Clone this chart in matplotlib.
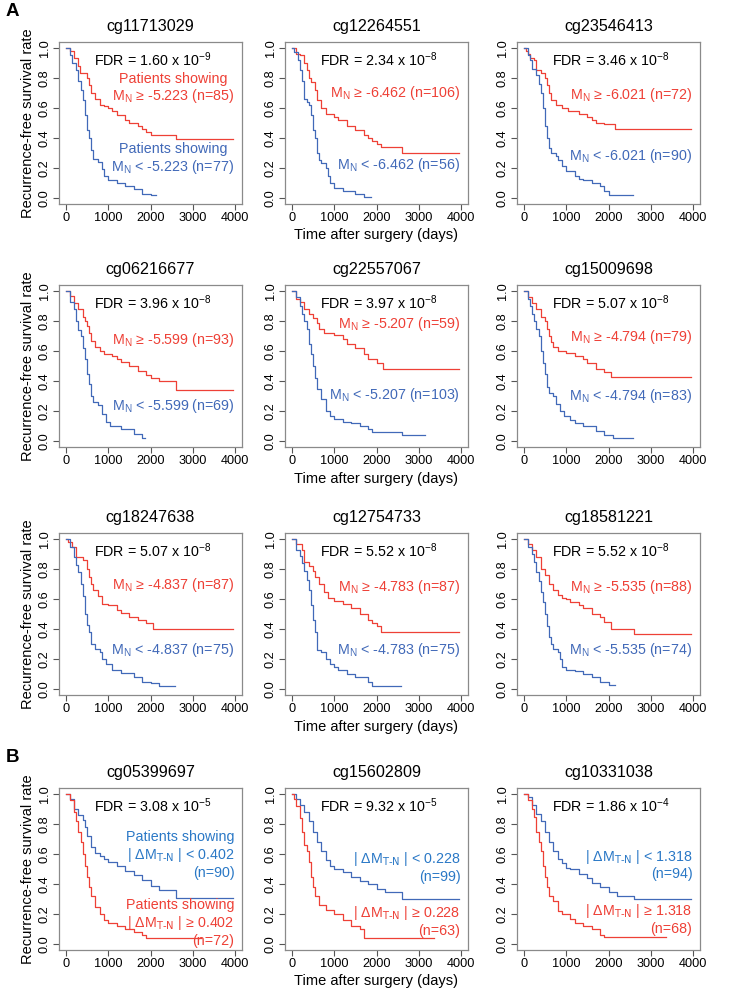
import matplotlib
matplotlib.use("Agg")
import matplotlib.pyplot as plt

plt.rcParams["font.family"] = ["Liberation Sans", "DejaVu Sans"]
plt.rcParams["mathtext.default"] = "regular"

RED = "#EE4036"
BLUE = "#4169B8"
BLUE_B = "#2A78C6"

# ---- panel A: split by normal-tissue methylation M_N ----
titles_a = ["cg11713029", "cg12264551", "cg23546413",
            "cg06216677", "cg22557067", "cg15009698",
            "cg18247638", "cg12754733", "cg18581221"]
fdr_a = [("1.60", "-9"), ("2.34", "-8"), ("3.46", "-8"),
         ("3.96", "-8"), ("3.97", "-8"), ("5.07", "-8"),
         ("5.07", "-8"), ("5.52", "-8"), ("5.52", "-8")]
thresh_a = ["-5.223", "-6.462", "-6.021", "-5.599", "-5.207",
            "-4.794", "-4.837", "-4.783", "-5.535"]
n_hi_a = [85, 106, 72, 93, 59, 79, 87, 87, 88]
n_lo_a = [77, 56, 90, 69, 103, 83, 75, 75, 74]

# ---- panel B: split by |delta M (tumour - normal)| ----
titles_b = ["cg05399697", "cg15602809", "cg10331038"]
fdr_b = [("3.08", "-5"), ("9.32", "-5"), ("1.86", "-4")]
thresh_b = ["0.402", "0.228", "1.318"]
n_lo_b = [90, 99, 94]
n_hi_b = [72, 63, 68]

# Kaplan-Meier step points (days, survival); hi = red, lo = blue
a1_hi_t = [0, 100, 200, 300, 330, 500, 550, 600, 700, 800, 900, 1000, 1100, 1200, 1400, 1500, 1700, 1800, 1900, 2000, 2600, 3950]
a1_hi_s = [1.0, 0.98, 0.93, 0.88, 0.83, 0.80, 0.75, 0.70, 0.66, 0.62, 0.61, 0.60, 0.58, 0.55, 0.52, 0.50, 0.48, 0.46, 0.44, 0.42, 0.39, 0.39]
a1_lo_t = [0, 100, 150, 250, 300, 350, 400, 450, 500, 550, 600, 650, 750, 850, 900, 1000, 1200, 1400, 1600, 1800, 2000, 2130]
a1_lo_s = [1.0, 0.95, 0.90, 0.85, 0.78, 0.72, 0.65, 0.55, 0.45, 0.40, 0.32, 0.26, 0.24, 0.19, 0.15, 0.12, 0.10, 0.08, 0.06, 0.03, 0.02, 0.02]

a2_hi_t = [0, 100, 200, 300, 350, 400, 450, 550, 600, 700, 800, 1000, 1100, 1300, 1500, 1700, 1800, 1900, 2000, 2100, 2600, 3950]
a2_hi_s = [1.0, 0.96, 0.95, 0.90, 0.85, 0.80, 0.77, 0.72, 0.65, 0.60, 0.56, 0.54, 0.52, 0.48, 0.45, 0.42, 0.40, 0.38, 0.36, 0.34, 0.30, 0.30]
a2_lo_t = [0, 50, 150, 200, 250, 280, 350, 400, 450, 500, 550, 600, 650, 700, 800, 850, 900, 1000, 1200, 1500, 1700, 1870]
a2_lo_s = [1.0, 0.97, 0.92, 0.85, 0.78, 0.66, 0.64, 0.62, 0.55, 0.45, 0.40, 0.30, 0.25, 0.23, 0.20, 0.15, 0.10, 0.07, 0.05, 0.03, 0.01, 0.01]

a3_hi_t = [0, 50, 100, 150, 250, 300, 400, 500, 550, 600, 650, 750, 900, 1050, 1300, 1500, 1600, 1700, 1900, 2150, 3950]
a3_hi_s = [1.0, 0.98, 0.96, 0.93, 0.92, 0.85, 0.83, 0.80, 0.75, 0.70, 0.65, 0.62, 0.60, 0.58, 0.56, 0.54, 0.52, 0.50, 0.49, 0.46, 0.46]
a3_lo_t = [0, 100, 150, 200, 300, 350, 400, 450, 500, 550, 600, 650, 750, 800, 900, 1000, 1200, 1300, 1400, 1600, 1800, 1900, 2000, 2580]
a3_lo_s = [1.0, 0.95, 0.92, 0.86, 0.82, 0.76, 0.70, 0.60, 0.48, 0.40, 0.33, 0.30, 0.28, 0.25, 0.21, 0.18, 0.15, 0.13, 0.12, 0.10, 0.08, 0.05, 0.02, 0.02]

a4_hi_t = [0, 100, 200, 300, 400, 450, 500, 550, 600, 700, 800, 900, 1100, 1200, 1300, 1500, 1700, 1900, 2000, 2200, 2600, 3950]
a4_hi_s = [1.0, 0.97, 0.92, 0.88, 0.83, 0.80, 0.77, 0.72, 0.67, 0.63, 0.60, 0.58, 0.57, 0.55, 0.53, 0.50, 0.47, 0.44, 0.42, 0.40, 0.34, 0.34]
a4_lo_t = [0, 100, 200, 250, 300, 350, 400, 450, 500, 550, 600, 650, 750, 850, 950, 1050, 1300, 1600, 1800, 1880]
a4_lo_s = [1.0, 0.93, 0.88, 0.80, 0.74, 0.70, 0.62, 0.55, 0.45, 0.38, 0.30, 0.26, 0.24, 0.18, 0.13, 0.10, 0.08, 0.05, 0.02, 0.02]

a5_hi_t = [0, 100, 200, 300, 400, 500, 600, 650, 750, 1000, 1200, 1300, 1500, 1700, 1800, 2000, 2150, 3950]
a5_hi_s = [1.0, 0.95, 0.93, 0.88, 0.85, 0.82, 0.79, 0.75, 0.72, 0.71, 0.68, 0.65, 0.62, 0.58, 0.55, 0.52, 0.48, 0.48]
a5_lo_t = [0, 100, 200, 250, 300, 350, 400, 450, 500, 550, 600, 700, 800, 900, 1000, 1200, 1400, 1600, 1800, 1900, 2600, 3150]
a5_lo_s = [1.0, 0.96, 0.90, 0.85, 0.80, 0.75, 0.65, 0.58, 0.50, 0.42, 0.35, 0.28, 0.20, 0.17, 0.15, 0.13, 0.12, 0.10, 0.08, 0.06, 0.04, 0.04]

a6_hi_t = [0, 100, 200, 300, 400, 500, 550, 600, 650, 700, 800, 1000, 1200, 1400, 1500, 1700, 1900, 2050, 3950]
a6_hi_s = [1.0, 0.96, 0.92, 0.88, 0.83, 0.80, 0.75, 0.70, 0.66, 0.63, 0.60, 0.59, 0.57, 0.55, 0.52, 0.48, 0.46, 0.43, 0.43]
a6_lo_t = [0, 100, 150, 200, 250, 300, 350, 400, 450, 500, 550, 600, 700, 750, 850, 950, 1100, 1200, 1400, 1700, 1900, 2100, 2580]
a6_lo_s = [1.0, 0.95, 0.90, 0.85, 0.80, 0.75, 0.70, 0.60, 0.52, 0.45, 0.36, 0.32, 0.30, 0.25, 0.20, 0.17, 0.14, 0.12, 0.10, 0.07, 0.04, 0.02, 0.02]

a7_hi_t = [0, 50, 150, 250, 400, 500, 550, 600, 650, 750, 850, 1000, 1200, 1300, 1500, 1700, 1900, 2050, 3950]
a7_hi_s = [1.0, 0.98, 0.95, 0.88, 0.86, 0.80, 0.75, 0.70, 0.66, 0.62, 0.57, 0.56, 0.53, 0.51, 0.48, 0.46, 0.44, 0.40, 0.40]
a7_lo_t = [0, 100, 200, 250, 300, 350, 400, 450, 500, 550, 600, 700, 800, 850, 950, 1100, 1300, 1600, 1800, 2000, 2200, 2580]
a7_lo_s = [1.0, 0.95, 0.88, 0.83, 0.78, 0.70, 0.62, 0.50, 0.43, 0.38, 0.30, 0.27, 0.25, 0.20, 0.17, 0.13, 0.11, 0.08, 0.05, 0.04, 0.02, 0.02]

a8_hi_t = [0, 100, 250, 300, 400, 500, 550, 650, 750, 850, 1000, 1200, 1400, 1600, 1800, 1900, 2000, 2100, 3950]
a8_hi_s = [1.0, 0.97, 0.93, 0.85, 0.82, 0.79, 0.75, 0.70, 0.65, 0.61, 0.59, 0.57, 0.54, 0.50, 0.46, 0.44, 0.42, 0.38, 0.38]
a8_lo_t = [0, 100, 200, 250, 300, 350, 400, 450, 500, 550, 600, 700, 800, 900, 1000, 1100, 1300, 1500, 1800, 1900, 2580]
a8_lo_s = [1.0, 0.93, 0.89, 0.84, 0.79, 0.73, 0.66, 0.56, 0.46, 0.38, 0.26, 0.25, 0.20, 0.17, 0.15, 0.13, 0.10, 0.08, 0.05, 0.02, 0.02]

a9_hi_t = [0, 100, 200, 300, 400, 500, 600, 700, 800, 900, 1000, 1100, 1300, 1400, 1600, 1800, 1900, 2050, 2600, 3950]
a9_hi_s = [1.0, 0.97, 0.93, 0.88, 0.80, 0.76, 0.70, 0.66, 0.63, 0.61, 0.60, 0.58, 0.56, 0.54, 0.50, 0.48, 0.45, 0.40, 0.37, 0.37]
a9_lo_t = [0, 100, 200, 250, 300, 350, 400, 450, 500, 550, 600, 650, 700, 800, 850, 900, 1000, 1200, 1400, 1600, 1800, 2000, 2150]
a9_lo_s = [1.0, 0.95, 0.90, 0.85, 0.78, 0.72, 0.65, 0.58, 0.50, 0.42, 0.35, 0.30, 0.27, 0.25, 0.20, 0.15, 0.13, 0.12, 0.10, 0.08, 0.05, 0.03, 0.03]

b1_lo_t = [0, 100, 200, 300, 400, 450, 500, 600, 700, 800, 900, 1000, 1200, 1400, 1600, 1800, 2000, 2200, 2600, 3950]
b1_lo_s = [1.0, 0.97, 0.90, 0.86, 0.83, 0.78, 0.72, 0.65, 0.61, 0.59, 0.57, 0.55, 0.52, 0.49, 0.46, 0.43, 0.39, 0.36, 0.31, 0.31]
b1_hi_t = [0, 100, 200, 250, 300, 350, 400, 450, 500, 550, 600, 700, 800, 900, 1000, 1200, 1400, 1600, 1800, 1900, 3200]
b1_hi_s = [1.0, 0.96, 0.88, 0.82, 0.75, 0.68, 0.60, 0.52, 0.45, 0.38, 0.32, 0.25, 0.20, 0.16, 0.14, 0.12, 0.10, 0.08, 0.06, 0.04, 0.04]

b2_lo_t = [0, 100, 200, 300, 400, 500, 600, 700, 800, 900, 1000, 1200, 1400, 1600, 1800, 2000, 2200, 2600, 3950]
b2_lo_s = [1.0, 0.97, 0.93, 0.88, 0.82, 0.75, 0.68, 0.62, 0.56, 0.52, 0.50, 0.48, 0.45, 0.42, 0.40, 0.37, 0.35, 0.30, 0.30]
b2_hi_t = [0, 50, 100, 200, 250, 300, 350, 400, 450, 500, 550, 650, 800, 1000, 1200, 1400, 1600, 1700, 3350]
b2_hi_s = [1.0, 0.97, 0.92, 0.84, 0.75, 0.66, 0.62, 0.55, 0.45, 0.38, 0.32, 0.26, 0.23, 0.20, 0.16, 0.12, 0.10, 0.04, 0.04]

b3_lo_t = [0, 100, 200, 300, 400, 500, 600, 700, 800, 900, 1000, 1100, 1300, 1500, 1600, 1800, 2000, 2200, 2600, 3950]
b3_lo_s = [1.0, 0.98, 0.93, 0.87, 0.82, 0.75, 0.68, 0.62, 0.57, 0.54, 0.51, 0.50, 0.47, 0.44, 0.41, 0.38, 0.35, 0.32, 0.30, 0.30]
b3_hi_t = [0, 100, 200, 250, 300, 350, 400, 450, 500, 550, 600, 700, 800, 900, 1100, 1200, 1400, 1600, 1800, 1900, 3350]
b3_hi_s = [1.0, 0.96, 0.90, 0.85, 0.75, 0.68, 0.62, 0.52, 0.45, 0.38, 0.32, 0.29, 0.22, 0.20, 0.17, 0.14, 0.12, 0.10, 0.06, 0.05, 0.05]

curves_a = [(a1_hi_t, a1_hi_s, a1_lo_t, a1_lo_s), (a2_hi_t, a2_hi_s, a2_lo_t, a2_lo_s),
            (a3_hi_t, a3_hi_s, a3_lo_t, a3_lo_s), (a4_hi_t, a4_hi_s, a4_lo_t, a4_lo_s),
            (a5_hi_t, a5_hi_s, a5_lo_t, a5_lo_s), (a6_hi_t, a6_hi_s, a6_lo_t, a6_lo_s),
            (a7_hi_t, a7_hi_s, a7_lo_t, a7_lo_s), (a8_hi_t, a8_hi_s, a8_lo_t, a8_lo_s),
            (a9_hi_t, a9_hi_s, a9_lo_t, a9_lo_s)]
curves_b = [(b1_hi_t, b1_hi_s, b1_lo_t, b1_lo_s), (b2_hi_t, b2_hi_s, b2_lo_t, b2_lo_s),
            (b3_hi_t, b3_hi_s, b3_lo_t, b3_lo_s)]

# label heights (in survival units) for the group annotations
lab_y_hi_a = [0.73, 0.70, 0.686, 0.676, 0.778, 0.696, 0.69, 0.68, 0.68]
lab_y_lo_a = [0.257, 0.22, 0.283, 0.233, 0.307, 0.30, 0.26, 0.26, 0.26]
lab_y_lo_b = [0.593, 0.512, 0.531]
lab_y_hi_b = [0.138, 0.152, 0.165]

W, H = 750, 1000
col_left = [59, 285, 517]
row_top = [42, 285, 533, 788]
ax_w, ax_h = 183, 162

fig = plt.figure(figsize=(7.5, 10), dpi=100)


def make_ax(row, col):
    ax = fig.add_axes([col_left[col] / W, 1 - (row_top[row] + ax_h) / H, ax_w / W, ax_h / H])
    ax.set_xlim(-160, 4160)
    ax.set_ylim(-0.04, 1.04)
    ax.set_xticks([0, 1000, 2000, 3000, 4000])
    ax.set_yticks([0, 0.2, 0.4, 0.6, 0.8, 1.0])
    ax.set_yticklabels(["0.0", "0.2", "0.4", "0.6", "0.8", "1.0"])
    for s in ax.spines.values():
        s.set_color("#8a8a8a")
        s.set_linewidth(0.9)
    ax.tick_params(length=4, width=0.8, color="#555555", labelsize=9.2, pad=2)
    ax.tick_params(axis="y", labelrotation=90)
    for lab in ax.get_yticklabels():
        lab.set_va("center")
    if col == 0:
        ax.set_ylabel("Recurrence-free survival rate", fontsize=10.5, labelpad=3)
    if col == 1:
        ax.set_xlabel("Time after surgery (days)", fontsize=10.5, labelpad=3)
    return ax


def fdr_text(ax, val, exp):
    ax.text(2050, 0.92, "FDR = %s x 10$^{%s}$" % (val, exp), ha="center", va="center",
            fontsize=10.3)


for i in range(9):
    r, c = divmod(i, 3)
    ax = make_ax(r, c)
    hi_t, hi_s, lo_t, lo_s = curves_a[i]
    ax.step(hi_t, hi_s, where="post", color=RED, lw=0.9)
    ax.step(lo_t, lo_s, where="post", color=BLUE, lw=0.9)
    ax.set_title(titles_a[i], fontsize=11.6, pad=8)
    fdr_text(ax, *fdr_a[i])
    hi_lab = "M$_{N}$ \u2265 %s (n=%d)" % (thresh_a[i], n_hi_a[i])
    lo_lab = "M$_{N}$ < %s (n=%d)" % (thresh_a[i], n_lo_a[i])
    if i == 0:
        hi_lab = "Patients showing\n" + hi_lab
        lo_lab = "Patients showing\n" + lo_lab
    ax.text(3980, lab_y_hi_a[i], hi_lab, color=RED, ha="right", va="center",
            multialignment="center", fontsize=10.3, linespacing=1.15)
    ax.text(3980, lab_y_lo_a[i], lo_lab, color=BLUE, ha="right", va="center",
            multialignment="center", fontsize=10.3, linespacing=1.15)

for j in range(3):
    ax = make_ax(3, j)
    hi_t, hi_s, lo_t, lo_s = curves_b[j]
    ax.step(lo_t, lo_s, where="post", color=BLUE, lw=0.9)
    ax.step(hi_t, hi_s, where="post", color=RED, lw=0.9)
    ax.set_title(titles_b[j], fontsize=11.6, pad=8)
    fdr_text(ax, *fdr_b[j])
    lo_lab = "| \u0394M$_\\text{T-N}$ | < %s\n(n=%d)" % (thresh_b[j], n_lo_b[j])
    hi_lab = "| \u0394M$_\\text{T-N}$ | \u2265 %s\n(n=%d)" % (thresh_b[j], n_hi_b[j])
    if j == 0:
        lo_lab = "Patients showing\n" + lo_lab
        hi_lab = "Patients showing\n" + hi_lab
    ax.text(3980, lab_y_lo_b[j], lo_lab, color=BLUE_B, ha="right", va="center",
            multialignment="right", fontsize=10.3, linespacing=1.15)
    ax.text(3980, lab_y_hi_b[j], hi_lab, color=RED, ha="right", va="center",
            multialignment="right", fontsize=10.3, linespacing=1.15)

fig.text(6 / W, 1 - 12 / H, "A", fontsize=13.5, fontweight="bold", va="center")
fig.text(6 / W, 1 - 758 / H, "B", fontsize=13.5, fontweight="bold", va="center")

fig.savefig("out.png", dpi=100)
